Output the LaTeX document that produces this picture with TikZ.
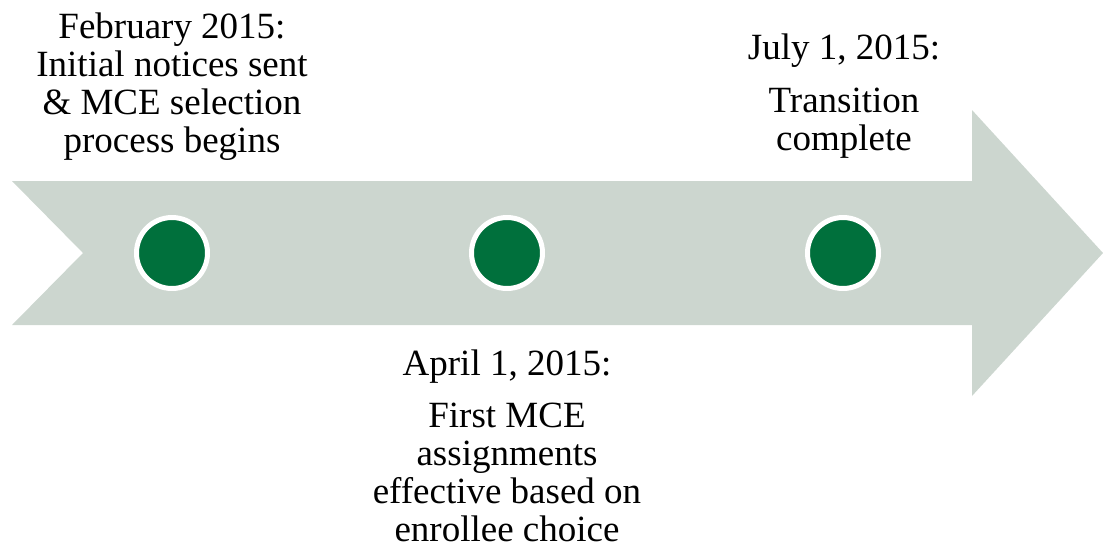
\documentclass[tikz,border=0pt]{standalone}
\usepackage{fontspec}
\setmainfont{Liberation Serif}
\usetikzlibrary{positioning}

\definecolor{arrowgray}{RGB}{204,214,207}
\definecolor{dotgreen}{RGB}{0,112,60}

\begin{document}
\begin{tikzpicture}[x=1pt, y=-1pt,
    milestone/.style={circle, fill=dotgreen, draw=white, line width=5pt, minimum size=71pt, inner sep=0pt},
    label/.style={align=center, inner sep=0pt, font=\fontsize{37}{38}\selectfont}]
    \useasboundingbox (0,0) rectangle (1103,550);

    % Arrow
    \fill[arrowgray] (12,181) -- (972,181) -- (972,110) -- (1103,253) -- (972,396)
        -- (972,325) -- (12,325) -- (83,253) -- cycle;

    % Milestones
    \node[milestone] (feb) at (172,253) {};
    \node[milestone] (apr) at (507,253) {};
    \node[milestone] (jul) at (843,253) {};

    % Labels
    \node[label, anchor=north] (febtext) at (172,13) {February 2015:\\Initial notices sent\\\& MCE selection\\process begins};
    \node[label, anchor=north] (jultext) at (844,34) {July 1, 2015:\\[15pt]Transition\\complete};
    \node[label, anchor=north] (aprtext) at (507,350) {April 1, 2015:\\[14pt]First MCE\\assignments\\effective based on\\enrollee choice};

\end{tikzpicture}
\end{document}
